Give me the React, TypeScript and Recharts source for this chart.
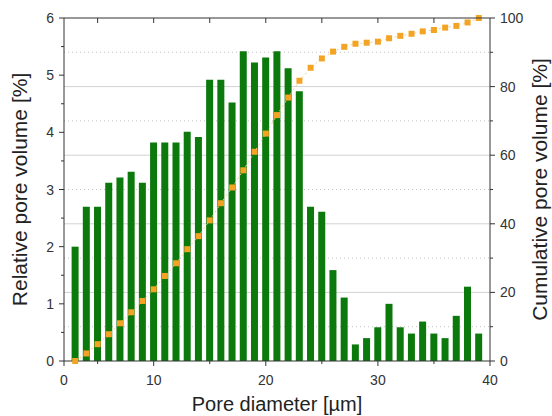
import React from "react";
import {
  ComposedChart,
  Bar,
  Line,
  XAxis,
  YAxis,
  CartesianGrid,
  Label,
} from "recharts";

// pore size bins [µm]
const diameters = [
  3, 4, 5, 6, 7, 8, 9, 10, 11, 12, 13, 14, 15, 16, 17, 18, 19, 20, 21, 22, 23,
  24, 25, 26, 27, 28, 29, 30, 31, 32, 33, 34, 35, 36, 37, 38, 39,
];

// relative pore volume [%]
const relativeVolume = [
  2.0, 2.7, 2.7, 3.12, 3.21, 3.31, 3.12, 3.82, 3.82, 3.82, 4.01, 3.92, 4.92,
  4.92, 4.52, 5.42, 5.22, 5.31, 5.42, 5.12, 4.72, 2.7, 2.61, 1.59, 1.11, 0.29,
  0.4, 0.59, 1.0, 0.59, 0.48, 0.69, 0.48, 0.4, 0.79, 1.3, 0.48,
];

// cumulative pore volume [%]
const cumulativeVolume = [
  0, 2.2, 4.9, 7.8, 11.0, 14.2, 17.5, 20.9, 24.8, 28.5, 32.6, 36.4, 41.0, 46.0,
  50.6, 55.6, 61.0, 66.3, 71.7, 76.8, 81.7, 85.5, 88.2, 90.2, 91.6, 92.5, 92.8,
  93.1, 94.1, 94.8, 95.4, 96.1, 96.5, 97.2, 97.7, 98.7, 100,
];

const xDomain = [2, 40];
const xTicks = [2, 5, 10, 15, 20, 25, 30, 35, 40];
const xLabels: Record<number, string> = {
  2: "0",
  10: "10",
  20: "20",
  30: "30",
  40: "40",
};
const topTicks = [5, 10, 15, 20, 25, 30, 35];
const relDomain = [0, 6];
const leftTicks = [0, 0.5, 1, 1.5, 2, 2.5, 3, 3.5, 4, 4.5, 5, 5.5, 6];
const rightTicks = [0, 10, 20, 30, 40, 50, 60, 70, 80, 90, 100];
const rightLabels = [0, 20, 40, 60, 80, 100];
const cumDomain = [0, 100];
const solidGrid = [20, 40, 60, 80];
const dottedGrid = [10, 30, 50, 70, 90];

const data = diameters.map((d, i) => ({
  d,
  rel: relativeVolume[i],
  cum: cumulativeVolume[i],
}));

// layout
const W = 552;
const H = 416;
const TOP = 18;
const LEFT_W = 64;
const RIGHT_W = 62;
const PLOT_W = W - LEFT_W - RIGHT_W;

const FONT = '"Liberation Sans", Arial, sans-serif';
const AXIS = "#333";

// maps values on the cumulative axis to pixel rows
const gridRows = (values: number[]) => (props: any) => {
  const { yAxis, offset } = props;
  if (yAxis && typeof yAxis.scale === "function") {
    return values.map((v) => yAxis.scale(v));
  }
  const [lo, hi] = cumDomain;
  return values.map(
    (v) => offset.top + offset.height * (1 - (v - lo) / (hi - lo))
  );
};

function BottomTick({ x, y, payload }: any) {
  const v = payload.value;
  const label = xLabels[v];
  return (
    <g>
      <line x1={x} x2={x} y1={y} y2={y + (label ? 5 : 3)} stroke={AXIS} />
      {label && (
        <text
          x={x}
          y={y + 24}
          textAnchor='middle'
          fontSize={14}
          fontFamily={FONT}
          fill='#333'
        >
          {label}
        </text>
      )}
    </g>
  );
}

function LeftTick({ x, y, payload }: any) {
  const v = payload.value;
  const major = Number.isInteger(v);
  return (
    <g>
      <line x1={x - (major ? 5 : 3)} x2={x} y1={y} y2={y} stroke={AXIS} />
      {major && (
        <text
          x={x - 10}
          y={y + 5}
          textAnchor='end'
          fontSize={14}
          fontFamily={FONT}
          fill='#333'
        >
          {v}
        </text>
      )}
    </g>
  );
}

function RightTick({ x, y, payload }: any) {
  const v = payload.value;
  const major = rightLabels.includes(v);
  return (
    <g>
      <line x1={x} x2={x + (major ? 5 : 3)} y1={y} y2={y} stroke={AXIS} />
      {major && (
        <text
          x={x + 10}
          y={y + 5}
          textAnchor='start'
          fontSize={14}
          fontFamily={FONT}
          fill='#333'
        >
          {v}
        </text>
      )}
    </g>
  );
}

function SquareDot({ cx, cy, index }: any) {
  return (
    <rect
      key={index}
      x={cx - 3}
      y={cy - 3}
      width={6}
      height={6}
      fill='#f4a424'
    />
  );
}

// top frame line with inward ticks, drawn over the chart
function TopFrame() {
  const [lo, hi] = xDomain;
  const col = (v: number) => LEFT_W + (PLOT_W * (v - lo)) / (hi - lo);
  return (
    <svg
      width={W}
      height={H}
      style={{ position: "absolute", left: 0, top: 0, pointerEvents: "none" }}
    >
      <line
        x1={LEFT_W}
        x2={LEFT_W + PLOT_W}
        y1={TOP}
        y2={TOP}
        stroke={AXIS}
        strokeWidth={1.2}
      />
      {topTicks.map((t) => (
        <line
          key={t}
          x1={col(t)}
          x2={col(t)}
          y1={TOP}
          y2={TOP + 5}
          stroke={AXIS}
        />
      ))}
    </svg>
  );
}

export default function App() {
  return (
    <div
      style={{
        position: "absolute",
        left: 0,
        top: 0,
        width: W,
        height: H,
        fontFamily: FONT,
      }}
    >
      <ComposedChart
        width={W}
        height={H}
        data={data}
        margin={{ top: TOP, right: 0, bottom: 0, left: 0 }}
      >
        <CartesianGrid
          xAxisId='bottom'
          yAxisId='right'
          vertical={false}
          stroke='#d2d2d2'
          horizontalCoordinatesGenerator={gridRows(solidGrid)}
        />
        <CartesianGrid
          xAxisId='bottom'
          yAxisId='right'
          vertical={false}
          stroke='#c4c4c4'
          strokeDasharray='1 3'
          horizontalCoordinatesGenerator={gridRows(dottedGrid)}
        />
        <XAxis
          xAxisId='bottom'
          dataKey='d'
          type='number'
          domain={xDomain}
          allowDataOverflow
          ticks={xTicks}
          interval={0}
          tickSize={0}
          tickMargin={0}
          tickLine={false}
          tick={<BottomTick />}
          height={55}
          stroke={AXIS}
        >
          <Label
            value='Pore diameter [µm]'
            position='insideBottom'
            offset={5}
            fontSize={20}
            fill='#222'
          />
        </XAxis>
        <YAxis
          yAxisId='left'
          orientation='left'
          domain={relDomain}
          ticks={leftTicks}
          interval={0}
          tickSize={0}
          tickMargin={0}
          tickLine={false}
          tick={<LeftTick />}
          width={LEFT_W}
          stroke={AXIS}
        >
          <Label
            value='Relative pore volume [%]'
            angle={-90}
            position='insideLeft'
            offset={20}
            fontSize={21}
            fill='#222'
            style={{ textAnchor: "middle" }}
          />
        </YAxis>
        <YAxis
          yAxisId='right'
          orientation='right'
          domain={cumDomain}
          ticks={rightTicks}
          interval={0}
          tickSize={0}
          tickMargin={0}
          tickLine={false}
          tick={<RightTick />}
          width={RIGHT_W}
          stroke={AXIS}
        >
          <Label
            value='Cumulative pore volume [%]'
            angle={-90}
            position='insideRight'
            offset={12}
            fontSize={21}
            fill='#222'
            style={{ textAnchor: "middle" }}
          />
        </YAxis>
        <Bar
          xAxisId='bottom'
          yAxisId='left'
          dataKey='rel'
          barSize={7}
          fill='#0b790b'
          isAnimationActive={false}
        />
        <Line
          xAxisId='bottom'
          yAxisId='right'
          dataKey='cum'
          stroke='#f6cf80'
          strokeWidth={1}
          strokeDasharray='2 3'
          dot={<SquareDot />}
          isAnimationActive={false}
        />
      </ComposedChart>
      <TopFrame />
    </div>
  );
}
